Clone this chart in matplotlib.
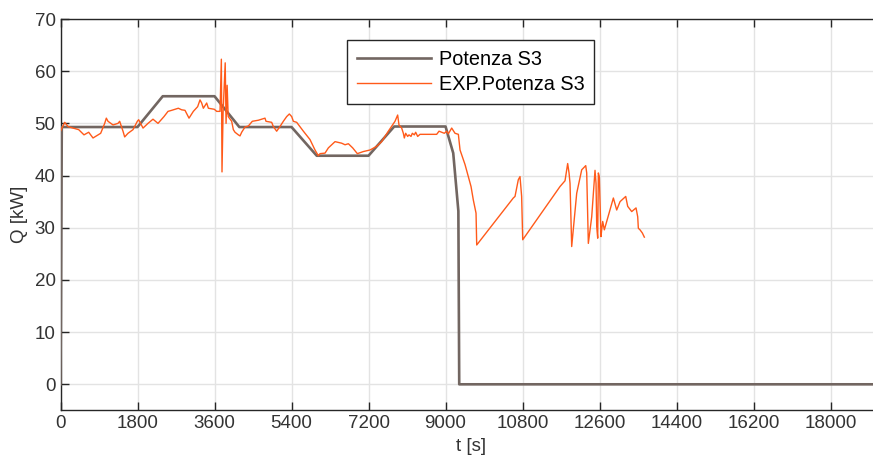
import numpy as np
from matplotlib import pyplot as plt

# model power (Potenza S3)
t_mod = [0, 30, 1800, 2390, 3600, 4180, 5400, 5990, 7200, 7800, 9000, 9180, 9300, 9320, 19200]
q_mod = [0, 49.3, 49.3, 55.2, 55.2, 49.3, 49.3, 43.8, 43.8, 49.4, 49.4, 44.3, 33.2, 0, 0]

# measured power (EXP.Potenza S3)
t_exp = [0, 35, 98, 175, 292, 425, 549, 659, 760, 939, 1033, 1071, 1110, 1227, 1344,
         1383, 1461, 1500, 1578, 1695, 1796, 1827, 1929, 2045, 2162, 2279, 2419, 2513,
         2599, 2754, 2832, 2910, 3004, 3105, 3206, 3261, 3300, 3339, 3417, 3456, 3596,
         3651, 3729, 3760, 3775, 3800, 3850, 3870, 3895, 3920, 4001, 4040, 4079, 4157,
         4196, 4235, 4313, 4391, 4484, 4624, 4780, 4803, 4936, 4975, 5053, 5131, 5209,
         5287, 5349, 5404, 5443, 5521, 5677, 5832, 5949, 6027, 6066, 6183, 6261, 6417,
         6573, 6651, 6729, 6830, 6939, 7079, 7235, 7391, 7507, 7663, 7819, 7881, 7912,
         7975, 8014, 8037, 8068, 8115, 8146, 8193, 8224, 8271, 8302, 8349, 8403, 8793,
         8848, 8910, 8972, 9027, 9066, 9144, 9222, 9300, 9339, 9456, 9533, 9596, 9650,
         9713, 9729, 10584, 10624, 10701, 10741, 10779, 10804, 11676, 11793, 11855,
         11887, 11910, 11949, 12066, 12183, 12277, 12300, 12338, 12417, 12494, 12518,
         12534, 12557, 12572, 12595, 12611, 12634, 12650, 12674, 12712, 12845, 12923,
         13001, 13079, 13212, 13258, 13352, 13453, 13492, 13507, 13546, 13600, 13647]
q_exp = [48.5, 49.1, 50.2, 49.4, 49.1, 48.8, 47.8, 48.3, 47.2, 48.1, 50.0, 51.0, 50.4,
         49.7, 50.0, 50.4, 48.5, 47.4, 48.1, 48.8, 50.4, 50.7, 49.1, 50.0, 50.8, 50.0,
         51.3, 52.3, 52.5, 52.9, 52.6, 52.5, 51.0, 52.3, 53.2, 54.5, 53.9, 52.9, 53.9,
         52.9, 52.7, 52.3, 52.3, 62.3, 40.7, 52.0, 61.6, 50.0, 57.3, 51.3, 50.4, 48.8,
         48.3, 47.8, 47.6, 48.3, 49.3, 49.5, 50.4, 50.6, 51.0, 50.4, 50.2, 49.4, 48.5,
         49.4, 50.4, 51.3, 51.8, 51.3, 50.4, 50.2, 48.5, 46.9, 44.9, 43.8, 44.2, 44.3,
         45.3, 46.5, 46.2, 45.9, 46.1, 45.3, 44.2, 44.6, 44.9, 45.6, 46.5, 48.5, 50.4,
         51.6, 49.7, 49.1, 48.1, 47.2, 48.1, 47.5, 47.8, 47.5, 48.1, 47.8, 48.3, 47.5,
         47.9, 47.9, 48.5, 48.3, 48.1, 48.5, 48.0, 49.1, 48.1, 47.9, 44.9, 42.1, 39.8,
         37.9, 35.3, 32.8, 26.7, 35.7, 36.0, 39.2, 39.8, 36.0, 27.7, 37.9, 39.0, 42.3,
         40.5, 38.5, 26.4, 36.6, 41.1, 41.9, 40.5, 27.0, 32.1, 41.0, 38.5, 30.2, 28.0,
         40.5, 39.8, 35.3, 28.3, 29.6, 31.2, 29.6, 33.4, 35.7, 33.4, 35.0, 36.0, 34.1,
         33.1, 33.8, 32.1, 29.9, 29.6, 29.0, 28.2]

x_ticks = np.arange(0, 18001, 1800)
y_ticks = np.arange(0, 71, 10)

plt.rcParams['font.family'] = ['Liberation Sans', 'DejaVu Sans']
plt.rcParams['font.size'] = 13.5

fig = plt.figure(figsize=(8.73, 4.66), dpi=100)
ax = fig.add_axes([60.5 / 873, 1 - 410.4 / 466, 821.4 / 873, 391.4 / 466])

ax.plot(t_mod, q_mod, color='#726661', lw=1.9, label='Potenza S3', zorder=3)
ax.plot(t_exp, q_exp, color='#ff5a1a', lw=1.0, label='EXP.Potenza S3', zorder=4)

ax.set_xlim(0, 19200)
ax.set_ylim(-5, 70)
ax.set_xticks(x_ticks)
ax.set_yticks(y_ticks)
ax.grid(True, color='#e3e3e3', lw=1)
ax.set_axisbelow(True)
ax.tick_params(direction='in', length=6, width=1, colors='#262626',
               labelcolor='#333333', top=True, right=True)
for s in ax.spines.values():
    s.set_color('#262626')
    s.set_linewidth(1)

ax.set_xlabel('t [s]', color='#333333', labelpad=4)
ax.set_ylabel('Q [kW]', color='#333333', labelpad=5)

leg = ax.legend(loc='upper left', bbox_to_anchor=(0.349, 0.946), borderaxespad=0,
                fancybox=False, framealpha=1, edgecolor='#262626',
                handlelength=3.7, handletextpad=0.4, labelspacing=0.3,
                borderpad=0.5, fontsize=14.3)
leg.get_frame().set_linewidth(1)

fig.savefig('out.png', dpi=100)
